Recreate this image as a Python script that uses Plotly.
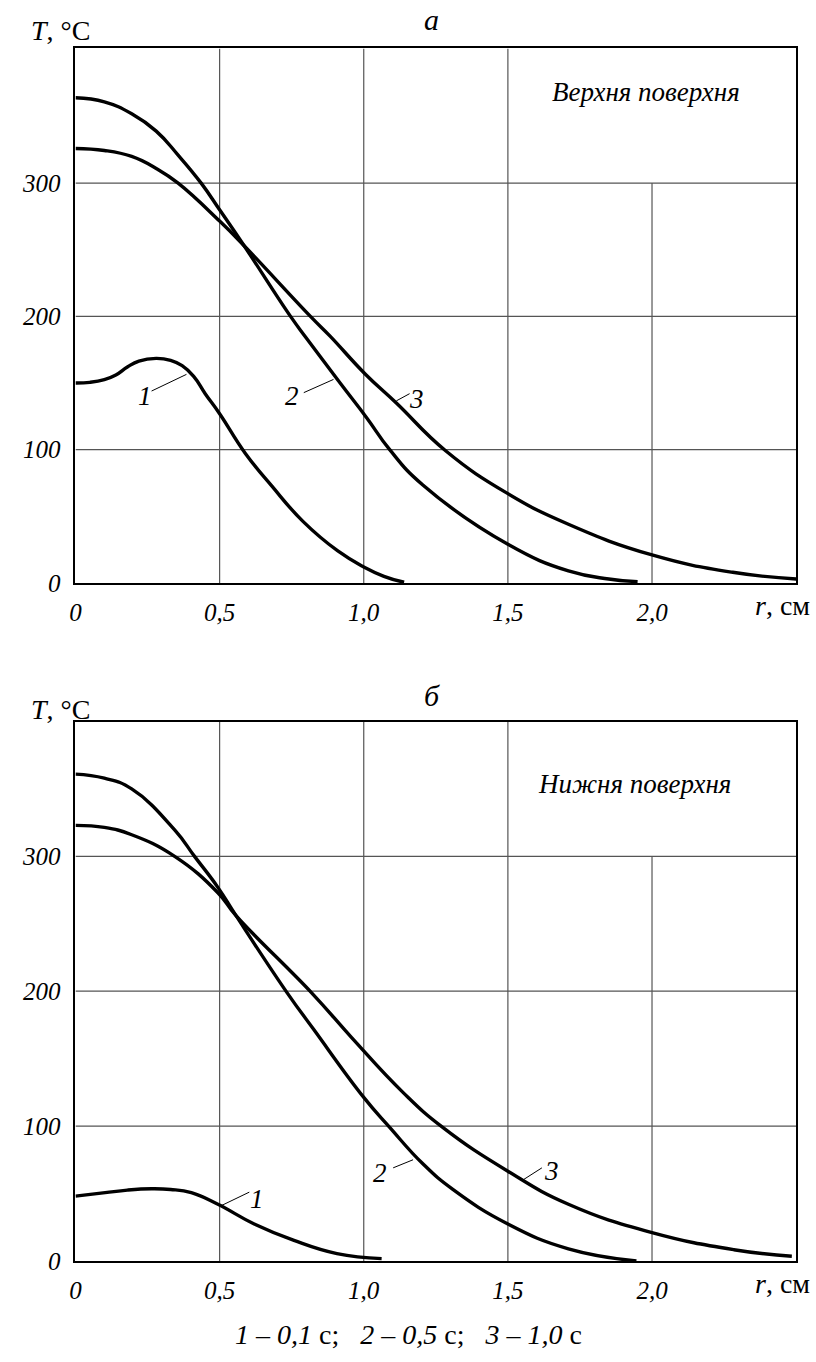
import plotly.graph_objects as go

# ---------------- data ----------------
# Panel a: upper surface
r_top_1 = [0, 0.05, 0.10, 0.14, 0.18, 0.22, 0.28, 0.33, 0.37, 0.41, 0.45, 0.50, 0.59, 0.68, 0.79, 0.91, 1.00, 1.07, 1.14]
T_top_1 = [150, 150.5, 152.5, 156, 162, 166.5, 168.5, 167, 163, 155, 142, 127, 97, 73, 46, 24, 12, 5, 0.5]

r_top_2 = [0, 0.10, 0.195, 0.28, 0.356, 0.436, 0.50, 0.585, 0.746, 0.80, 0.918, 1.01, 1.09, 1.205, 1.5, 1.71, 1.85, 1.95]
T_top_2 = [364, 361, 352, 339, 321, 300, 280, 253, 200, 184, 150, 124, 100, 73.5, 29, 9, 3, 1]

r_top_3 = [0, 0.10, 0.195, 0.28, 0.356, 0.50, 0.585, 0.815, 0.884, 1.004, 1.113, 1.285, 1.5, 1.71, 2.0, 2.28, 2.5]
T_top_3 = [326, 324.5, 320, 311, 300, 271.5, 253, 200, 185, 157, 135, 99, 67, 44, 21, 8, 3]

# Panel б: lower surface
r_bot_1 = [0, 0.103, 0.18, 0.264, 0.33, 0.402, 0.494, 0.62, 0.758, 0.907, 1.062]
T_bot_1 = [48, 50.6, 52.5, 53.5, 53, 50.6, 42, 27.4, 15.2, 5.4, 1.7]

r_bot_2 = [0, 0.10, 0.195, 0.344, 0.413, 0.494, 0.557, 0.735, 0.826, 0.9986, 1.09, 1.205, 1.309, 1.5, 1.71, 1.946]
T_bot_2 = [361, 358, 350, 319.6, 300, 277, 256, 198.6, 171.7, 121.6, 99, 72, 53, 27.4, 9, 0]

r_bot_3 = [0, 0.10, 0.195, 0.344, 0.494, 0.557, 0.82, 0.958, 1.136, 1.274, 1.5, 1.71, 2.0, 2.284, 2.485]
T_bot_3 = [323, 321.5, 316, 300, 273, 256, 198.6, 165.6, 125, 99, 66.5, 42, 21, 8.3, 3.4]

x_tick_vals = [0, 0.5, 1.0, 1.5, 2.0]
x_tick_text = ["0", "0,5", "1,0", "1,5", "2,0"]
y_tick_vals = [0, 100, 200, 300]
y_tick_text = ["0", "100", "200", "300"]

panel_titles = ["а", "б"]
panel_labels = ["Верхня поверхня", "Нижня поверхня"]
caption = "<i>1</i> – <i>0,1</i> с;   <i>2</i> – <i>0,5</i> с;   <i>3</i> – <i>1,0</i> с"

# ---------------- figure ----------------
W, H = 816, 1362
FONT = "Liberation Serif, Times New Roman, serif"
fig = go.Figure()

def px_y(p):
    return 1 - p / H

line_style = dict(color="black", width=3.4, shape="spline", smoothing=1.3)

for r, T in [(r_top_1, T_top_1), (r_top_2, T_top_2), (r_top_3, T_top_3)]:
    fig.add_trace(go.Scatter(x=r, y=T, mode="lines", line=line_style, xaxis="x", yaxis="y",
                             showlegend=False, hoverinfo="skip"))
for r, T in [(r_bot_1, T_bot_1), (r_bot_2, T_bot_2), (r_bot_3, T_bot_3)]:
    fig.add_trace(go.Scatter(x=r, y=T, mode="lines", line=line_style, xaxis="x2", yaxis="y2",
                             showlegend=False, hoverinfo="skip"))

xdom = [70 / W, 796 / W]
ax_common = dict(showgrid=False, zeroline=False, showline=True, linecolor="black", linewidth=2,
                 mirror=True, ticks="", tickfont=dict(family=FONT, size=25, color="black", style="italic"))

fig.update_layout(
    width=W, height=H, margin=dict(l=0, r=0, t=0, b=0),
    paper_bgcolor="white", plot_bgcolor="white", showlegend=False,
    font=dict(family=FONT, color="black"),
    xaxis=dict(domain=xdom, range=[0, 2.5], anchor="y", tickvals=x_tick_vals, ticktext=x_tick_text,
               ticklabelstandoff=6, **ax_common),
    yaxis=dict(domain=[px_y(589), px_y(49)], range=[0, 401], anchor="x", tickvals=y_tick_vals,
               ticktext=y_tick_text, ticklabelstandoff=8, **ax_common),
    xaxis2=dict(domain=xdom, range=[0, 2.5], anchor="y2", tickvals=x_tick_vals, ticktext=x_tick_text,
                ticklabelstandoff=6, **ax_common),
    yaxis2=dict(domain=[px_y(1274), px_y(729)], range=[0, 400], anchor="x2", tickvals=y_tick_vals,
                ticktext=y_tick_text, ticklabelstandoff=8, **ax_common),
)

shapes = []
for xr, yr in [("x", "y"), ("x2", "y2")]:
    for xv in [0.5, 1.0, 1.5]:
        shapes.append(dict(type="line", xref=xr, yref=yr, x0=xv, x1=xv, y0=0, y1=400 if yr == "y2" else 401,
                           line=dict(color="#555", width=1.2), layer="below"))
    shapes.append(dict(type="line", xref=xr, yref=yr, x0=2.0, x1=2.0, y0=0, y1=300,
                       line=dict(color="#555", width=1.2), layer="below"))
    for yv in [100, 200, 300]:
        shapes.append(dict(type="line", xref=xr, yref=yr, x0=0, x1=2.5, y0=yv, y1=yv,
                           line=dict(color="#555", width=1.2), layer="below"))

# leader lines for curve labels
leaders_top = [((0.264, 144), (0.385, 156.5)), ((0.792, 142.8), (0.895, 152.7)), ((1.113, 136.6), (1.159, 142))]
leaders_bot = [((0.505, 40.9), (0.603, 51)), ((1.102, 69), (1.171, 75)), ((1.555, 60.4), (1.618, 69))]
for (a, b) in leaders_top:
    shapes.append(dict(type="line", xref="x", yref="y", x0=a[0], y0=a[1], x1=b[0], y1=b[1],
                       line=dict(color="black", width=1)))
for (a, b) in leaders_bot:
    shapes.append(dict(type="line", xref="x2", yref="y2", x0=a[0], y0=a[1], x1=b[0], y1=b[1],
                       line=dict(color="black", width=1)))
fig.update_layout(shapes=shapes)

ann = []
lbl_font = dict(family=FONT, size=27, color="black", style="italic")
# curve numbers
for txt, x, y, xr, yr in [("1", 0.241, 140, "x", "y"), ("2", 0.752, 140, "x", "y"), ("3", 1.182, 138, "x", "y"),
                          ("1", 0.631, 45.7, "x2", "y2"), ("2", 1.056, 65, "x2", "y2"), ("3", 1.653, 66.5, "x2", "y2")]:
    ann.append(dict(text=txt, x=x, y=y, xref=xr, yref=yr, showarrow=False, font=lbl_font,
                    xanchor="center", yanchor="middle"))
# panel inner labels
ann.append(dict(text=panel_labels[0], x=1.98, y=368, xref="x", yref="y", showarrow=False,
                font=dict(family=FONT, size=27, color="black", style="italic"), xanchor="center", yanchor="middle"))
ann.append(dict(text=panel_labels[1], x=1.94, y=353.6, xref="x2", yref="y2", showarrow=False,
                font=dict(family=FONT, size=27, color="black", style="italic"), xanchor="center", yanchor="middle"))
# panel titles
ann.append(dict(text=panel_titles[0], x=429 / W, y=px_y(20), xref="paper", yref="paper", showarrow=False,
                font=dict(family=FONT, size=30, color="black", style="italic"), xanchor="center", yanchor="middle"))
ann.append(dict(text=panel_titles[1], x=429 / W, y=px_y(703), xref="paper", yref="paper", showarrow=False,
                font=dict(family=FONT, size=30, color="black", style="italic"), xanchor="center", yanchor="middle"))
# axis titles
for yy in [31, 717]:
    ann.append(dict(text="<i>T</i>, °C", x=23 / W, y=px_y(yy), xref="paper", yref="paper", showarrow=False,
                    font=dict(family=FONT, size=28, color="black"), xanchor="left", yanchor="middle"))
for yy in [612, 1297]:
    ann.append(dict(text="<i>r</i>, см", x=812 / W, y=px_y(yy), xref="paper", yref="paper", showarrow=False,
                    font=dict(family=FONT, size=28, color="black"), xanchor="right", yanchor="middle"))
# caption
ann.append(dict(text=caption, x=405 / W, y=px_y(1348), xref="paper", yref="paper", showarrow=False,
                font=dict(family=FONT, size=28, color="black"), xanchor="center", yanchor="middle"))
fig.update_layout(annotations=ann)

fig.write_html("out.html", config={"displayModeBar": False},
               post_script="document.body.style.margin='0';document.body.style.overflow='hidden';")
